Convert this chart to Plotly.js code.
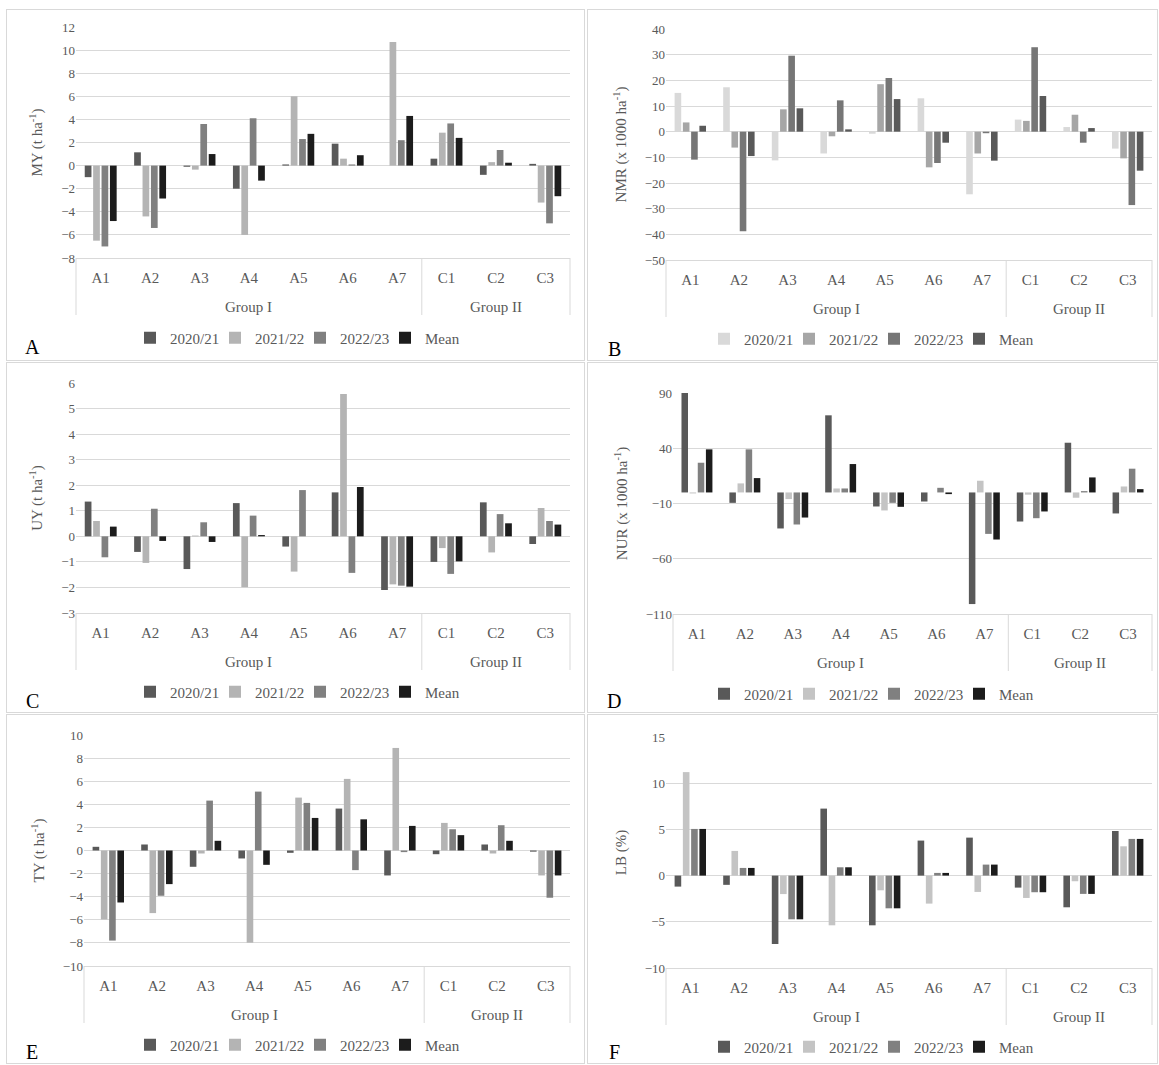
<!DOCTYPE html>
<html><head><meta charset="utf-8">
<script src="https://cdn.plot.ly/plotly-3.0.1.min.js"></script>
<style>
body{margin:0;background:#fff;width:1159px;height:1065px;position:relative;overflow:hidden;}
.box{position:absolute;border:1px solid #d9d9d9;box-sizing:border-box;}
.plot{position:absolute;left:0;top:0;}
</style></head><body>
<div id="root"></div>
<script>
const categories = ['A1','A2','A3','A4','A5','A6','A7','C1','C2','C3'];
const groupNames = ['Group I','Group II'];
const groupSizes = [7, 3];
const seasons = ['2020/21','2021/22','2022/23','Mean'];

const MY_2020_21 = [-1.0, 1.15, -0.1, -2.0, 0.1, 1.9, 0, 0.6, -0.8, 0.15];
const MY_2021_22 = [-6.5, -4.4, -0.35, -6.0, 6.0, 0.6, 10.7, 2.85, 0.3, -3.2];
const MY_2022_23 = [-7.0, -5.4, 3.6, 4.1, 2.3, 0.1, 2.2, 3.65, 1.35, -5.0];
const MY_Mean    = [-4.8, -2.85, 1.0, -1.3, 2.75, 0.9, 4.3, 2.4, 0.25, -2.65];

const NMR_2020_21 = [15.1, 17.3, -11.2, -8.5, -0.8, 13.0, -24.4, 4.7, 1.8, -6.6];
const NMR_2021_22 = [3.6, -6.2, 8.7, -1.8, 18.5, -13.9, -8.5, 4.2, 6.6, -10.4];
const NMR_2022_23 = [-10.9, -38.8, 29.6, 12.2, 20.9, -12.2, -0.6, 32.9, -4.3, -28.6];
const NMR_Mean    = [2.3, -9.5, 9.1, 0.9, 12.7, -4.3, -11.3, 13.9, 1.4, -15.2];

const UY_2020_21 = [1.36, -0.61, -1.28, 1.30, -0.40, 1.72, -2.10, -1.00, 1.33, -0.30];
const UY_2021_22 = [0.60, -1.04, 0.03, -1.99, -1.38, 5.57, -1.88, -0.46, -0.63, 1.11];
const UY_2022_23 = [-0.82, 1.08, 0.55, 0.81, 1.81, -1.43, -1.93, -1.47, 0.87, 0.60];
const UY_Mean    = [0.38, -0.18, -0.22, 0.05, 0.0, 1.93, -1.97, -0.98, 0.51, 0.46];

const NUR_2020_21 = [91, -9.4, -32.6, 69.8, -12.7, -8.2, -101, -26.3, 45, -19];
const NUR_2021_22 = [-0.9, 8.2, -6, 3.6, -16.3, 0, 10.6, -2, -4.8, 5.4];
const NUR_2022_23 = [26.9, 39, -29, 3.6, -9.4, 4.2, -37.5, -23.3, 1.2, 21.5];
const NUR_Mean    = [39, 13, -22.7, 25.7, -13, -1.5, -42.6, -17.2, 13.6, 3.0];

const TY_2020_21 = [0.32, 0.52, -1.41, -0.69, -0.2, 3.63, -2.16, -0.32, 0.52, -0.1];
const TY_2021_22 = [-5.97, -5.42, -0.26, -7.98, 4.58, 6.2, 8.88, 2.39, -0.26, -2.16];
const TY_2022_23 = [-7.8, -3.92, 4.32, 5.1, 4.12, -1.7, -0.14, 1.84, 2.19, -4.09];
const TY_Mean    = [-4.5, -2.91, 0.84, -1.24, 2.82, 2.7, 2.13, 1.33, 0.84, -2.16];

const LB_2020_21 = [-1.19, -1.0, -7.4, 7.25, -5.38, 3.79, 4.11, -1.3, -3.43, 4.83];
const LB_2021_22 = [11.2, 2.67, -2.0, -5.38, -1.59, -3.03, -1.77, -2.42, -0.61, 3.17];
const LB_2022_23 = [5.05, 0.83, -4.73, 0.9, -3.54, 0.29, 1.19, -1.8, -1.98, 3.97];
const LB_Mean    = [5.05, 0.83, -4.73, 0.9, -3.54, 0.29, 1.19, -1.8, -1.98, 3.97];

const colStd = ['#595959','#b4b4b4','#808080','#1c1c1c'];
const colB = ['#d9d9d9','#a6a6a6','#767676','#595959'];
const colD = ['#595959','#c4c4c4','#808080','#1c1c1c'];

const panels = [
 {id:'A', box:[6,9,579,352], plot:[76,27,570,258], range:[-8,12], tick0:-8, dtick:2,
  title:'MY (t ha<sup>-1</sup>)', letterPos:[32,347], legendPos:[300,338], colors:colStd,
  series:[MY_2020_21, MY_2021_22, MY_2022_23, MY_Mean]},
 {id:'B', box:[587,9,571,352], plot:[666,29,1152,260], range:[-50,40], tick0:-50, dtick:10,
  title:'NMR (x 1000 ha<sup>-1</sup>)', letterPos:[614,349], legendPos:[874,339], colors:colB,
  series:[NMR_2020_21, NMR_2021_22, NMR_2022_23, NMR_Mean]},
 {id:'C', box:[6,362,579,351], plot:[76,383,570,613], range:[-3,6], tick0:-3, dtick:1,
  title:'UY (t ha<sup>-1</sup>)', letterPos:[32,701], legendPos:[300,692], colors:colStd,
  series:[UY_2020_21, UY_2021_22, UY_2022_23, UY_Mean]},
 {id:'D', box:[587,362,571,351], plot:[673,393,1152,614], range:[-110,90], tick0:-110, dtick:50,
  title:'NUR (x 1000 ha<sup>-1</sup>)', letterPos:[614,701], legendPos:[874,694], colors:colD,
  series:[NUR_2020_21, NUR_2021_22, NUR_2022_23, NUR_Mean]},
 {id:'E', box:[6,714,579,350], plot:[84,735,570,966], range:[-10,10], tick0:-10, dtick:2,
  title:'TY (t ha<sup>-1</sup>)', letterPos:[32,1052], legendPos:[300,1045], colors:colStd,
  series:[TY_2020_21, TY_2021_22, TY_2022_23, TY_Mean]},
 {id:'F', box:[587,714,571,350], plot:[666,737,1152,968], range:[-10,15], tick0:-10, dtick:5,
  title:'LB (%)', letterPos:[614,1052], legendPos:[874,1047], colors:colD,
  series:[LB_2020_21, LB_2021_22, LB_2022_23, LB_Mean]}
];

const FONT = 'Liberation Serif, Times New Roman, serif';
const GRAY = '#595959';
const LINE = '#d9d9d9';
const root = document.getElementById('root');

panels.forEach(p => {
  const [bl, bt, bw, bh] = p.box;
  const box = document.createElement('div');
  box.className = 'box';
  box.style.left = bl + 'px'; box.style.top = bt + 'px';
  box.style.width = bw + 'px'; box.style.height = bh + 'px';
  const pd = document.createElement('div');
  pd.className = 'plot';
  box.appendChild(pd);
  root.appendChild(box);

  const ox = bl + 1, oy = bt + 1, W = bw - 2, H = bh - 2;
  const [px0, py0, px1, py1] = p.plot;
  const margin = {l: px0 - ox, r: (ox + W) - px1, t: py0 - oy, b: (oy + H) - py1, pad: 0, autoexpand: false};
  const pw = px1 - px0, ph = py1 - py0;
  const toX = ax => (ax - px0) / pw;
  const toY = ay => (py1 - ay) / ph;

  const traces = p.series.map((vals, i) => ({
    type: 'bar',
    name: seasons[i],
    x: categories,
    y: vals,
    marker: {color: p.colors[i], line: {width: 0}},
    hoverinfo: 'skip'
  }));

  // group labels and dividers below the category axis
  const n = categories.length;
  const annotations = [];
  const shapes = [];
  let start = 0;
  const divY = -57 / ph;
  shapes.push({type: 'line', xref: 'paper', yref: 'paper', x0: 0, x1: 0, y0: 0, y1: divY,
    line: {color: LINE, width: 1}});
  groupNames.forEach((g, gi) => {
    const end = start + groupSizes[gi];
    annotations.push({xref: 'paper', yref: 'paper', x: (start + end) / 2 / n, y: -48.5 / ph,
      xanchor: 'center', yanchor: 'middle', showarrow: false, text: g,
      font: {family: FONT, size: 15, color: GRAY}});
    shapes.push({type: 'line', xref: 'paper', yref: 'paper', x0: end / n, x1: end / n, y0: 0, y1: divY,
      line: {color: LINE, width: 1}});
    start = end;
  });
  annotations.push({xref: 'paper', yref: 'paper', x: toX(p.letterPos[0]), y: toY(p.letterPos[1]),
    xanchor: 'center', yanchor: 'middle', showarrow: false, text: p.id,
    font: {family: FONT, size: 20, color: '#000'}});

  const layout = {
    width: W, height: H,
    margin: margin,
    paper_bgcolor: '#fff', plot_bgcolor: '#fff',
    font: {family: FONT, color: GRAY, size: 14},
    barmode: 'group', bargap: 0.32, bargroupgap: 0.2,
    showlegend: true,
    legend: {orientation: 'h', x: toX(p.legendPos[0]), y: toY(p.legendPos[1]),
      xanchor: 'center', yanchor: 'middle', font: {family: FONT, size: 15, color: GRAY},
      itemwidth: 30, entrywidth: 40, entrywidthmode: 'pixels',
      bgcolor: 'rgba(0,0,0,0)', traceorder: 'normal'},
    xaxis: {type: 'category', categoryorder: 'array', categoryarray: categories,
      range: [-0.5, n - 0.5],
      showline: true, linecolor: LINE, linewidth: 1,
      showgrid: false, zeroline: false, ticks: '', ticklabelstandoff: 6,
      tickfont: {family: FONT, size: 15, color: GRAY}},
    yaxis: {range: p.range, tick0: p.tick0, dtick: p.dtick, showgrid: true, gridcolor: LINE,
      zeroline: false, showline: false, ticks: '',
      tickfont: {family: FONT, size: 13, color: GRAY},
      title: {text: p.title, font: {family: FONT, size: 15, color: GRAY}, standoff: 14}},
    shapes: shapes,
    annotations: annotations
  };
  Plotly.newPlot(pd, traces, layout, {staticPlot: true, displayModeBar: false});
});
</script>
</body></html>
